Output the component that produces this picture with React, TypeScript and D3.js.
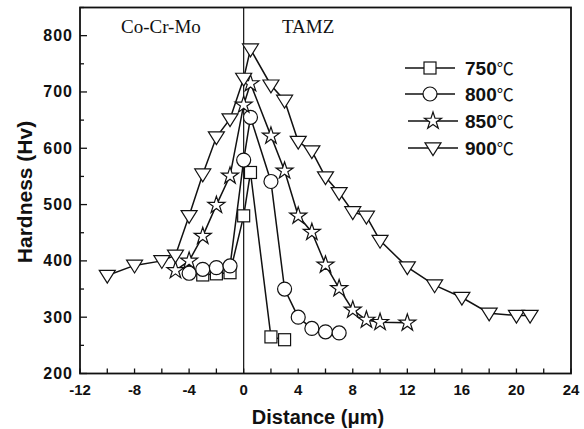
import React from 'react';
import * as d3 from 'd3';

const d750 = [-3, -2, -1, 0, 0.5, 2, 3];
const v750 = [375, 377, 379, 480, 557, 265, 260];

const d800 = [-4, -3, -2, -1, 0, 0.5, 2, 3, 4, 5, 6, 7];
const v800 = [378, 385, 388, 391, 579, 655, 541, 350, 300, 280, 274, 272];

const d850 = [-5, -4, -3, -2, -1, 0, 0.5, 2, 3, 4, 5, 6, 7, 8, 9, 10, 12];
const v850 = [383, 400, 444, 499, 551, 677, 715, 622, 560, 480, 451, 393, 351, 313, 295, 291, 290];

const d900 = [-10, -8, -6, -5, -4, -3, -2, -1, 0, 0.5, 2, 3, 4, 5, 6, 7, 8, 9, 10, 12, 14, 16, 18, 20, 21];
const v900 = [374, 392, 400, 410, 480, 554, 620, 652, 724, 776, 712, 685, 612, 595, 549, 521, 487, 479, 436, 389, 357, 335, 307, 303, 303];

const xTicks = [-12, -8, -4, 0, 4, 8, 12, 16, 20, 24];
const yTicks = [200, 300, 400, 500, 600, 700, 800];
const seriesNames = ['750', '800', '850', '900'];

const W = 584;
const H = 429;
const left = 80;
const right = 571;
const top = 7.5;
const bottom = 373.5;

const x = d3.scaleLinear().domain([-12, 24]).range([left, right]);
const y = d3.scaleLinear().domain([200, 850]).range([bottom, top]);

type Shape = 'square' | 'circle' | 'star' | 'tri';

const Marker = ({ cx, cy, shape }: { cx: number; cy: number; shape: Shape }) => {
  const st = { fill: 'white', stroke: '#111', strokeWidth: 1.2 };
  if (shape === 'square') return <rect x={cx - 6} y={cy - 6} width={12} height={12} {...st} />;
  if (shape === 'circle') return <circle cx={cx} cy={cy} r={7} {...st} />;
  if (shape === 'star') {
    const p = d3.symbol().type(d3.symbolStar).size(90)() as string;
    return <path d={p} transform={`translate(${cx},${cy})`} {...st} />;
  }
  const s = 8;
  return (
    <path
      d={`M${cx - s},${cy - s * 0.65}L${cx + s},${cy - s * 0.65}L${cx},${cy + s * 0.95}Z`}
      {...st}
    />
  );
};

const Series = ({ xs, vs, shape }: { xs: number[]; vs: number[]; shape: Shape }) => {
  const pts: [number, number][] = xs.map((d, i) => [x(d), y(vs[i])]);
  const line = d3.line()(pts) as string;
  return (
    <g>
      <path d={line} fill="none" stroke="#111" strokeWidth={1.5} />
      {pts.map((p, i) => (
        <Marker key={i} cx={p[0]} cy={p[1]} shape={shape} />
      ))}
    </g>
  );
};

export default function App() {
  const minorX = d3.range(-12, 25, 2);
  const minorY = d3.range(250, 851, 100);
  const shapes: Shape[] = ['square', 'circle', 'star', 'tri'];
  const legendY = [68, 94, 121, 148];
  const legendX = [405, 405, 408, 408];
  return (
    <svg width={W} height={H} style={{ position: 'absolute', left: 0, top: 0, background: 'white' }}>
      <rect width={W} height={H} fill="white" />
      {/* vertical interface line */}
      <line x1={x(0)} x2={x(0)} y1={top} y2={bottom} stroke="#111" strokeWidth={1.2} />
      <text x={121} y={33} fontFamily="Liberation Serif" fontSize={19} fill="#111">Co-Cr-Mo</text>
      <text x={282} y={33} fontFamily="Liberation Serif" fontSize={19} fill="#111">TAMZ</text>

      <Series xs={d750} vs={v750} shape="square" />
      <Series xs={d800} vs={v800} shape="circle" />
      <Series xs={d850} vs={v850} shape="star" />
      <Series xs={d900} vs={v900} shape="tri" />

      {/* frame */}
      <rect x={left} y={top} width={right - left} height={bottom - top} fill="none" stroke="#111" strokeWidth={1.8} />
      {minorX.map((t) => (
        <line key={'x' + t} x1={x(t)} x2={x(t)} y1={bottom} y2={bottom - 5} stroke="#111" strokeWidth={1.3} />
      ))}
      {yTicks.map((t) => (
        <line key={'y' + t} x1={left} x2={left + 7} y1={y(t)} y2={y(t)} stroke="#111" strokeWidth={1.3} />
      ))}
      {minorY.map((t) => (
        <line key={'ym' + t} x1={left} x2={left + 4} y1={y(t)} y2={y(t)} stroke="#111" strokeWidth={1.3} />
      ))}
      {xTicks.map((t) => (
        <text key={'xl' + t} x={x(t)} y={395} textAnchor="middle" fontFamily="Liberation Sans" fontWeight="bold" fontSize={15} fill="#111">
          {t}
        </text>
      ))}
      {yTicks.map((t) => (
        <text key={'yl' + t} x={73} y={y(t) + 5.5} textAnchor="end" fontFamily="Liberation Sans" fontWeight="bold" fontSize={16} letterSpacing={1} fill="#111">
          {t}
        </text>
      ))}
      <text x={318} y={424} textAnchor="middle" fontFamily="Liberation Sans" fontWeight="bold" fontSize={20} fill="#111">
        Distance (μm)
      </text>
      <text transform={`translate(32,192) rotate(-90)`} textAnchor="middle" fontFamily="Liberation Sans" fontWeight="bold" fontSize={21} fill="#111">
        Hardness (Hv)
      </text>

      {/* legend */}
      {seriesNames.map((n, i) => (
        <g key={n}>
          <line x1={legendX[i]} x2={legendX[i] + 50} y1={legendY[i]} y2={legendY[i]} stroke="#111" strokeWidth={1.5} />
          <Marker cx={legendX[i] + 25} cy={legendY[i]} shape={shapes[i]} />
          <text x={465} y={legendY[i] + 7} fontFamily="Liberation Sans" fontSize={19} fill="#111">
            <tspan fontWeight="bold">{n}</tspan>
            <tspan fontFamily="Noto Sans CJK SC" fontSize={17}>℃</tspan>
          </text>
        </g>
      ))}
    </svg>
  );
}
